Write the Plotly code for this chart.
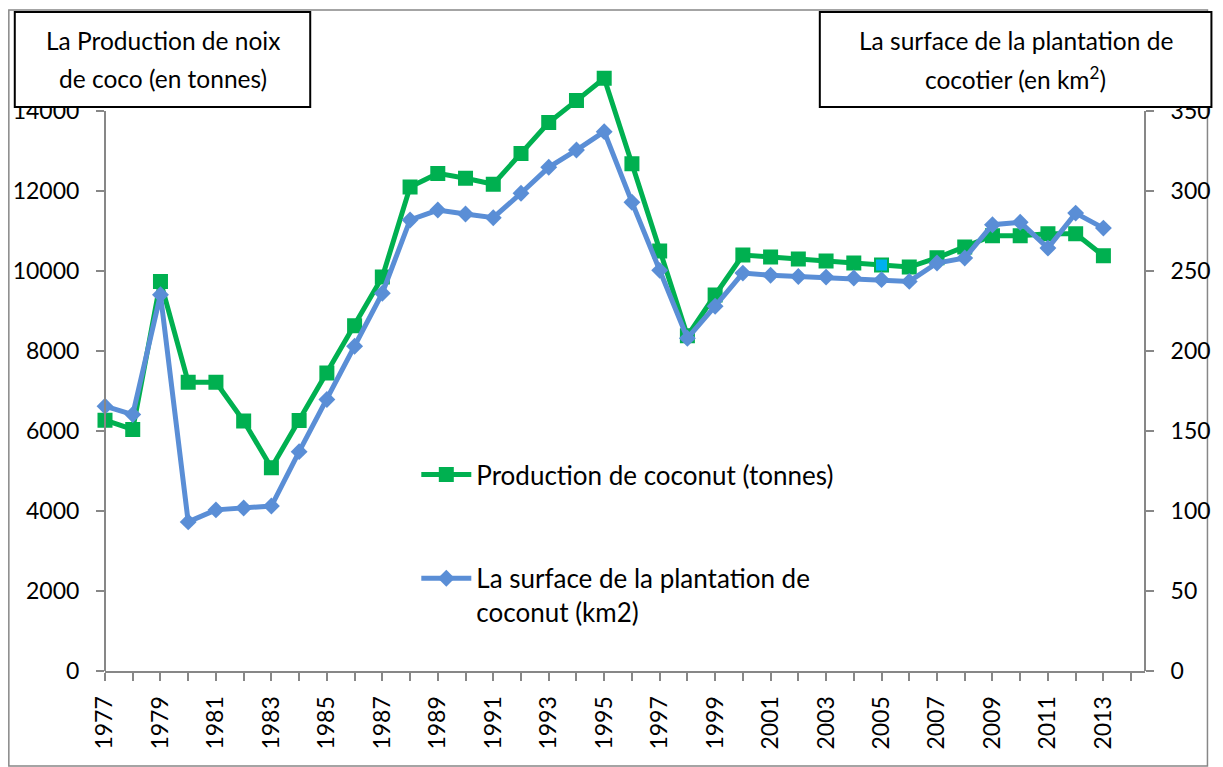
import plotly.graph_objects as go

# Years and series values
years = list(range(1977, 2014))
production = [6270, 6040, 9740, 7220, 7220, 6250, 5080, 6260, 7450, 8630, 9850,
              12100, 12440, 12320, 12170, 12940, 13710, 14260, 14820,
              12680, 10500, 8380, 9400, 10400,
              10350, 10300, 10250, 10200, 10150, 10100,
              10330, 10600, 10880, 10880, 10930, 10930, 10380]
surface = [165.5, 160.3, 235.2, 93.2, 100.7, 101.9, 103.1, 137.1, 169.7, 203.0, 236.1,
           281.9, 288.1, 285.6, 283.3, 298.6, 314.8, 325.6, 337.1,
           293.0, 250.4, 208.0, 228.0, 248.7,
           247.3, 246.6, 246.2, 245.6, 244.6, 243.5,
           255.0, 258.1, 278.9, 280.5, 264.3, 286.2, 276.8]

# Labelled years (every second one); minor ticks mark the others
label_years = list(range(1977, 2014, 2))
left_ticks = list(range(0, 14001, 2000))
right_ticks = list(range(0, 351, 50))

name_prod = "Production de coconut (tonnes)"
name_surf = "La surface de la plantation de<br>coconut (km2)"
title_left = ["La Production de noix", "de coco (en tonnes)"]
title_right = ["La surface de la plantation de", "cocotier (en km<sup>2</sup>)"]

GREEN = "#00B050"
BLUE = "#5A8ED6"
HIGHLIGHT = "#00B0F0"
AXIS = "#878787"
FONT = "Lato"

# Value axes stop at 14000 / 350, but the plotting area reaches a bit higher
# so the 1994-1995 production peak is not cut off.
Y_TOP, Y2_TOP = 15400, 385

W, H = 1223, 767
L, R, T, B = 105, 69, 55, 96
pw, ph = W - L - R, H - T - B


def px(x):
    return (x - L) / pw


def py(y):
    return (H - B - y) / ph


prod_colors = [HIGHLIGHT if y == 2005 else GREEN for y in years]

fig = go.Figure()
fig.add_trace(go.Scatter(
    x=years, y=production, name=name_prod, mode="lines+markers",
    line=dict(color=GREEN, width=5),
    marker=dict(symbol="square", size=13, color=prod_colors,
                line=dict(color=GREEN, width=2)),
    cliponaxis=False, legendgroup="a",
))
fig.add_trace(go.Scatter(
    x=years, y=surface, name=name_surf, mode="lines+markers", yaxis="y2",
    line=dict(color=BLUE, width=5),
    marker=dict(symbol="diamond", size=13, color=BLUE),
    cliponaxis=False, legendgroup="b",
))

axis_common = dict(
    showgrid=False, zeroline=False,
    ticks="outside", ticklen=8, tickwidth=2, tickcolor=AXIS,
    tickfont=dict(family=FONT, size=23, color="black"),
)

fig.update_layout(
    width=W, height=H,
    margin=dict(l=L, r=R, t=T, b=B),
    paper_bgcolor="white", plot_bgcolor="white",
    font=dict(family=FONT, size=25, color="black"),
    xaxis=dict(range=[1977, 2014.5], tickmode="array", tickvals=label_years,
               tickangle=-90, ticklabelstandoff=6, tickformat="d",
               minor=dict(tick0=1977, dtick=1, ticks="outside", ticklen=8,
                          tickwidth=2, tickcolor=AXIS, showgrid=False),
               showline=True, linecolor=AXIS, linewidth=2, **axis_common),
    yaxis=dict(range=[0, Y_TOP], tickmode="array", tickvals=left_ticks,
               tickformat="d", ticklabelstandoff=12, showline=False,
               **axis_common),
    yaxis2=dict(range=[0, Y2_TOP], tickmode="array", tickvals=right_ticks,
                tickformat="d", overlaying="y", side="right",
                ticklabelstandoff=12, showline=False, **axis_common),
    legend=dict(x=px(419), y=py(451), xanchor="left", yanchor="top",
                bgcolor="rgba(0,0,0,0)", font=dict(family=FONT, size=26),
                tracegroupgap=67, itemwidth=50, valign="top"),
    showlegend=True,
)

# Value axis lines, from 0 up to the top tick
fig.add_shape(type="line", xref="paper", yref="y", x0=0, x1=0,
              y0=0, y1=left_ticks[-1], line=dict(color=AXIS, width=2))
fig.add_shape(type="line", xref="paper", yref="y2", x0=1, x1=1,
              y0=0, y1=right_ticks[-1], line=dict(color=AXIS, width=2))

# Outer chart frame
fig.add_shape(type="rect", xref="paper", yref="paper",
              x0=px(8), x1=px(1217), y0=py(766), y1=py(10),
              line=dict(color=AXIS, width=1.5), fillcolor="rgba(0,0,0,0)",
              layer="below")

# Axis title boxes
for (x0, x1), lines in [((14, 312), title_left), ((826, 1221), title_right)]:
    fig.add_shape(type="rect", xref="paper", yref="paper",
                  x0=px(x0), x1=px(x1), y0=py(107), y1=py(12),
                  line=dict(color="black", width=2), fillcolor="white",
                  layer="above")
    cx = px((x0 + x1) / 2)
    for text, yc in zip(lines, (40, 78)):
        fig.add_annotation(x=cx, y=py(yc), xref="paper", yref="paper",
                           text=text, showarrow=False, xanchor="center",
                           yanchor="middle",
                           font=dict(family=FONT, size=24.5, color="black"))

fig.write_html("out.html")
